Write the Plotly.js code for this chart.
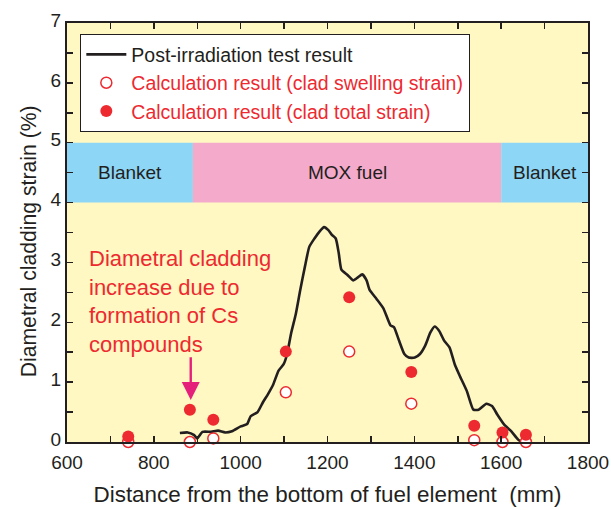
<!DOCTYPE html>
<html>
<head>
<meta charset="utf-8">
<script src="https://cdn.plot.ly/plotly-3.0.1.min.js"></script>
<style>html,body{margin:0;padding:0;background:#fff;}#chart{width:611px;height:510px;}</style>
</head>
<body>
<div id="chart"></div>
<script>
// Post-irradiation test result (measured profile)
const testX = [860, 878, 892, 900, 912, 932, 948, 964, 980, 1000, 1015, 1023, 1039, 1051, 1063, 1075, 1087, 1099, 1107, 1116, 1127, 1137, 1148, 1158, 1170, 1182, 1192, 1202, 1210, 1219, 1226, 1232, 1246, 1259, 1270, 1280, 1290, 1297, 1313, 1329, 1345, 1353, 1365, 1377, 1387, 1401, 1413, 1425, 1437, 1447, 1457, 1469, 1481, 1493, 1505, 1521, 1536, 1548, 1566, 1579, 1591, 1607, 1623, 1639, 1647];
const testY = [0.15, 0.16, 0.12, 0.06, 0.17, 0.17, 0.19, 0.16, 0.18, 0.26, 0.30, 0.43, 0.50, 0.66, 0.80, 0.96, 1.19, 1.30, 1.47, 1.81, 2.14, 2.53, 2.93, 3.26, 3.40, 3.52, 3.59, 3.54, 3.46, 3.40, 3.15, 2.88, 2.79, 2.70, 2.75, 2.80, 2.70, 2.54, 2.39, 2.23, 1.95, 1.92, 1.69, 1.47, 1.41, 1.41, 1.47, 1.61, 1.83, 1.93, 1.86, 1.69, 1.58, 1.30, 1.10, 0.85, 0.54, 0.54, 0.64, 0.60, 0.46, 0.29, 0.18, 0.04, 0.00];
// Calculation results
const calcX = [741, 883, 937, 1104, 1250, 1393, 1538, 1603, 1657];
const swellY = [0.00, 0.00, 0.06, 0.83, 1.51, 0.64, 0.03, 0.00, 0.00];
const totalY = [0.09, 0.54, 0.37, 1.51, 2.42, 1.17, 0.27, 0.16, 0.12];
// Region bands
const bandNames = ["Blanket", "MOX fuel", "Blanket"];
const bandStart = [600, 890, 1600];
const bandEnd = [890, 1600, 1800];
const bandLow = 4, bandHigh = 5;
// Axis ticks
const xTicks = [600, 800, 1000, 1200, 1400, 1600, 1800];
const yTicks = [0, 1, 2, 3, 4, 5, 6, 7];

const RED = '#ED2A30';
const INK = '#231F20';
const bandColors = ['#8DD6F6', '#F4ABCB', '#8DD6F6'];

const traces = [
  {x: testX, y: testY, type: 'scatter', mode: 'lines', name: 'Post-irradiation test result',
   line: {color: INK, width: 2.6, shape: 'spline', smoothing: 0.5}},
  {x: calcX, y: swellY, type: 'scatter', mode: 'markers',
   name: '<span style="color:' + RED + '">Calculation result (clad swelling strain)</span>',
   marker: {symbol: 'circle', size: 11, color: '#FFFFFF', line: {color: RED, width: 1.5}}, cliponaxis: false},
  {x: calcX, y: totalY, type: 'scatter', mode: 'markers',
   name: '<span style="color:' + RED + '">Calculation result (clad total strain)</span>',
   marker: {symbol: 'circle', size: 12, color: RED, line: {width: 0}}, cliponaxis: false}
];

const shapes = bandNames.map((n, i) => ({
  type: 'rect', xref: 'x', yref: 'y', x0: bandStart[i], x1: bandEnd[i], y0: bandLow, y1: bandHigh,
  fillcolor: bandColors[i], line: {width: 0}, layer: 'below'
}));

const annotations = bandNames.map((n, i) => ({
  x: (bandStart[i] + bandEnd[i]) / 2, y: (bandLow + bandHigh) / 2, xref: 'x', yref: 'y',
  text: n, showarrow: false, font: {size: 19, color: INK}
}));
annotations.push({
  x: 646, y: 3.31, xref: 'x', yref: 'y', xanchor: 'left', yanchor: 'top', align: 'left',
  text: 'Diametral cladding<br>increase due to<br>formation of Cs<br>compounds',
  showarrow: false, font: {size: 22, color: RED}
});
annotations.push({
  x: 885, y: 0.70, ax: 885, ay: 1.44, xref: 'x', yref: 'y', axref: 'x', ayref: 'y',
  text: '', showarrow: true, arrowhead: 2, arrowsize: 1.5, arrowwidth: 2.4, arrowcolor: '#E5207B'
});
// y-axis title (placed as rotated annotation to match the reference position)
annotations.push({
  x: -0.074, y: 0.48, xref: 'paper', yref: 'paper', xanchor: 'center', yanchor: 'middle',
  text: 'Diametral cladding strain (%)', textangle: -90, showarrow: false,
  font: {size: 21.2, color: INK}
});

const layout = {
  width: 611, height: 510,
  margin: {l: 67, r: 23, t: 23, b: 68},
  paper_bgcolor: '#FFFFFF', plot_bgcolor: '#FFF8C2',
  font: {family: 'Liberation Sans, Arial, sans-serif', color: INK, size: 19},
  showlegend: true,
  legend: {x: 0.025, y: 0.974, xanchor: 'left', yanchor: 'top', bgcolor: '#FFFFFF',
           bordercolor: INK, borderwidth: 1.3, font: {size: 19.5, color: INK}, itemwidth: 40},
  xaxis: {range: [600, 1800], tickvals: xTicks, ticktext: xTicks.map(String),
          ticks: 'inside', ticklen: 6, tickwidth: 1.5, tickcolor: INK, ticklabelstandoff: 2,
          minor: {dtick: 100, ticks: 'inside', ticklen: 6, tickwidth: 1.5, tickcolor: INK},
          showline: true, linewidth: 2, linecolor: INK, mirror: 'ticks', showgrid: false, zeroline: false,
          tickfont: {size: 19}, title: {text: 'Distance from the bottom of fuel element  (mm)', font: {size: 22.4}, standoff: 15}},
  yaxis: {range: [0, 7], tickvals: yTicks, ticktext: yTicks.map(String),
          ticks: 'inside', ticklen: 6, tickwidth: 1.5, tickcolor: INK, ticklabelshift: -3,
          minor: {dtick: 0.5, ticks: 'inside', ticklen: 6, tickwidth: 1.5, tickcolor: INK},
          showline: true, linewidth: 2, linecolor: INK, mirror: 'ticks', showgrid: false, zeroline: false,
          tickfont: {size: 19}},
  shapes: shapes,
  annotations: annotations
};

Plotly.newPlot('chart', traces, layout, {displayModeBar: false, staticPlot: true});
</script>
</body>
</html>
